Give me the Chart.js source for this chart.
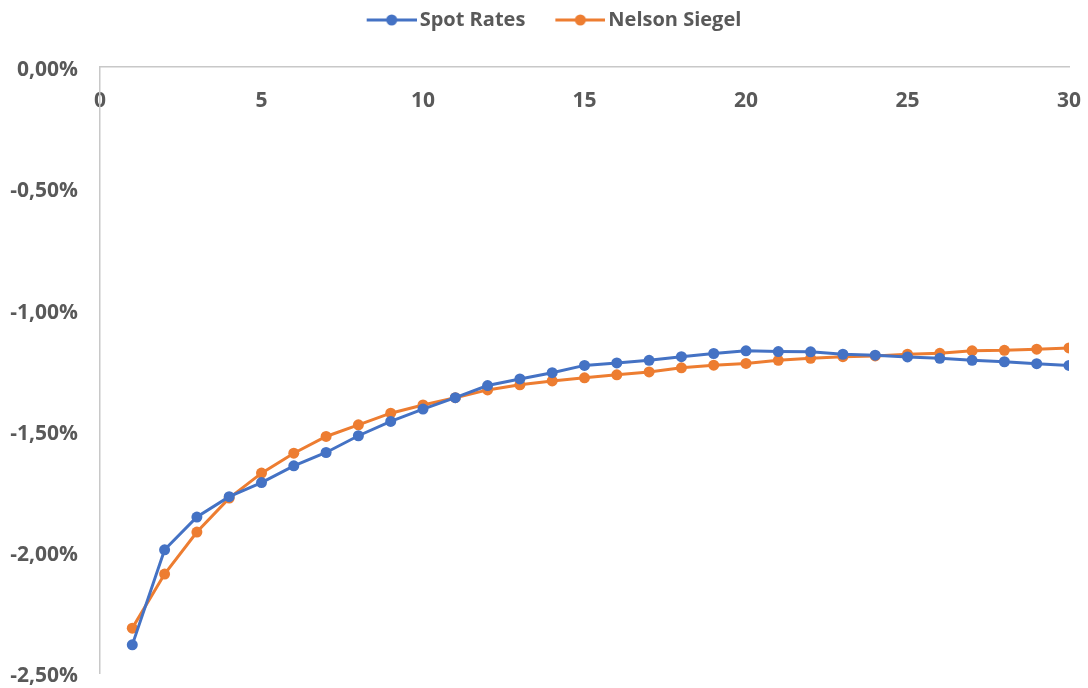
<!DOCTYPE html>
<html>
<head>
<meta charset="utf-8">
<title>Spot Rates vs Nelson Siegel</title>
<script src="https://cdn.jsdelivr.net/npm/chart.js@4/dist/chart.umd.min.js"></script>
<style>
  html, body { margin: 0; padding: 0; background: #ffffff; }
  #wrap { width: 1088px; height: 688px; }
</style>
</head>
<body>
<div id="wrap"><canvas id="curve" width="1088" height="688"></canvas></div>
<script>
// Maturities in years
const maturities = [1, 2, 3, 4, 5, 6, 7, 8, 9, 10, 11, 12, 13, 14, 15,
                    16, 17, 18, 19, 20, 21, 22, 23, 24, 25, 26, 27, 28, 29, 30];

// Bootstrapped spot rates (%)
const spotRates = [-2.382, -1.990, -1.855, -1.771, -1.713, -1.644, -1.589, -1.520, -1.461, -1.410,
                   -1.363, -1.313, -1.286, -1.260, -1.230, -1.220, -1.209, -1.194, -1.181, -1.170,
                   -1.173, -1.174, -1.184, -1.188, -1.195, -1.201, -1.209, -1.215, -1.223, -1.230];

// Fitted Nelson-Siegel curve (%)
const nelsonSiegel = [-2.313, -2.090, -1.917, -1.777, -1.674, -1.592, -1.523, -1.475, -1.427, -1.393,
                      -1.363, -1.331, -1.310, -1.294, -1.281, -1.269, -1.257, -1.240, -1.229, -1.222,
                      -1.209, -1.201, -1.194, -1.191, -1.184, -1.180, -1.170, -1.168, -1.163, -1.158];

const seriesNames = ['Spot Rates', 'Nelson Siegel'];
const seriesColors = ['#4472C4', '#ED7D31'];

const FONT = '"Open Sans", "Noto Sans", sans-serif';
const TEXT_COLOR = '#595959';
const AXIS_COLOR = '#c8c8c8';

const toPoints = (vals) => maturities.map((m, i) => ({ x: m, y: vals[i] }));

// Legend symbol: short line with a dot, drawn on the right part of a small canvas
function legendSymbol(color) {
  const c = document.createElement('canvas');
  c.width = 77; c.height = 14;
  const g = c.getContext('2d');
  g.strokeStyle = color;
  g.lineWidth = 3;
  g.beginPath();
  g.moveTo(27, 7); g.lineTo(77, 7);
  g.stroke();
  g.fillStyle = color;
  g.beginPath();
  g.arc(52, 7, 5.5, 0, Math.PI * 2);
  g.fill();
  return c;
}

const fmtPct = (v) => (Math.abs(v) < 1e-9 ? 0 : v).toFixed(2).replace('.', ',') + '%';

new Chart(document.getElementById('curve'), {
  type: 'line',
  data: {
    datasets: [
      {
        label: seriesNames[0],
        data: toPoints(spotRates),
        borderColor: seriesColors[0],
        backgroundColor: seriesColors[0],
        borderWidth: 3,
        pointRadius: 5.5,
        pointBorderWidth: 0,
        pointHoverRadius: 5.5,
        tension: 0
      },
      {
        label: seriesNames[1],
        data: toPoints(nelsonSiegel),
        borderColor: seriesColors[1],
        backgroundColor: seriesColors[1],
        borderWidth: 3,
        pointRadius: 5.5,
        pointBorderWidth: 0,
        pointHoverRadius: 5.5,
        tension: 0
      }
    ]
  },
  options: {
    responsive: false,
    animation: false,
    layout: { padding: { left: 0, right: 0, top: 0, bottom: 14.5 } },
    plugins: {
      tooltip: { enabled: false },
      legend: {
        position: 'top',
        align: 'center',
        labels: {
          usePointStyle: true,
          pointStyleWidth: 63,
          padding: 10,
          color: TEXT_COLOR,
          font: { family: FONT, size: 20, weight: 'bold' },
          generateLabels(chart) {
            return chart.data.datasets.map((ds, i) => ({
              text: ds.label,
              datasetIndex: i,
              fillStyle: ds.borderColor,
              strokeStyle: ds.borderColor,
              fontColor: TEXT_COLOR,
              lineWidth: 0,
              hidden: false,
              pointStyle: legendSymbol(ds.borderColor)
            }));
          }
        }
      }
    },
    scales: {
      x: {
        type: 'linear',
        position: 'top',
        min: 0,
        max: 30,
        afterFit(scale) {
          scale.height = 27;
          scale.paddingLeft = 0;
          scale.paddingRight = 19;
        },
        grid: { display: false, drawTicks: false },
        border: { display: true, color: AXIS_COLOR, width: 1.5 },
        ticks: {
          stepSize: 5,
          mirror: true,
          padding: 21,
          color: TEXT_COLOR,
          font: { family: FONT, size: 21, weight: 'bold' },
          maxRotation: 0
        }
      },
      y: {
        type: 'linear',
        position: 'left',
        min: -2.5,
        max: 0,
        afterFit(scale) {
          scale.width = 100;
          scale.paddingTop = 0;
          scale.paddingBottom = 0;
        },
        grid: { display: false, drawTicks: false },
        border: { display: true, color: AXIS_COLOR, width: 1.5 },
        ticks: {
          stepSize: 0.5,
          padding: 22,
          labelOffset: 3,
          color: TEXT_COLOR,
          font: { family: FONT, size: 21, weight: 'bold' },
          callback: (v) => fmtPct(v)
        }
      }
    }
  }
});
</script>
</body>
</html>
